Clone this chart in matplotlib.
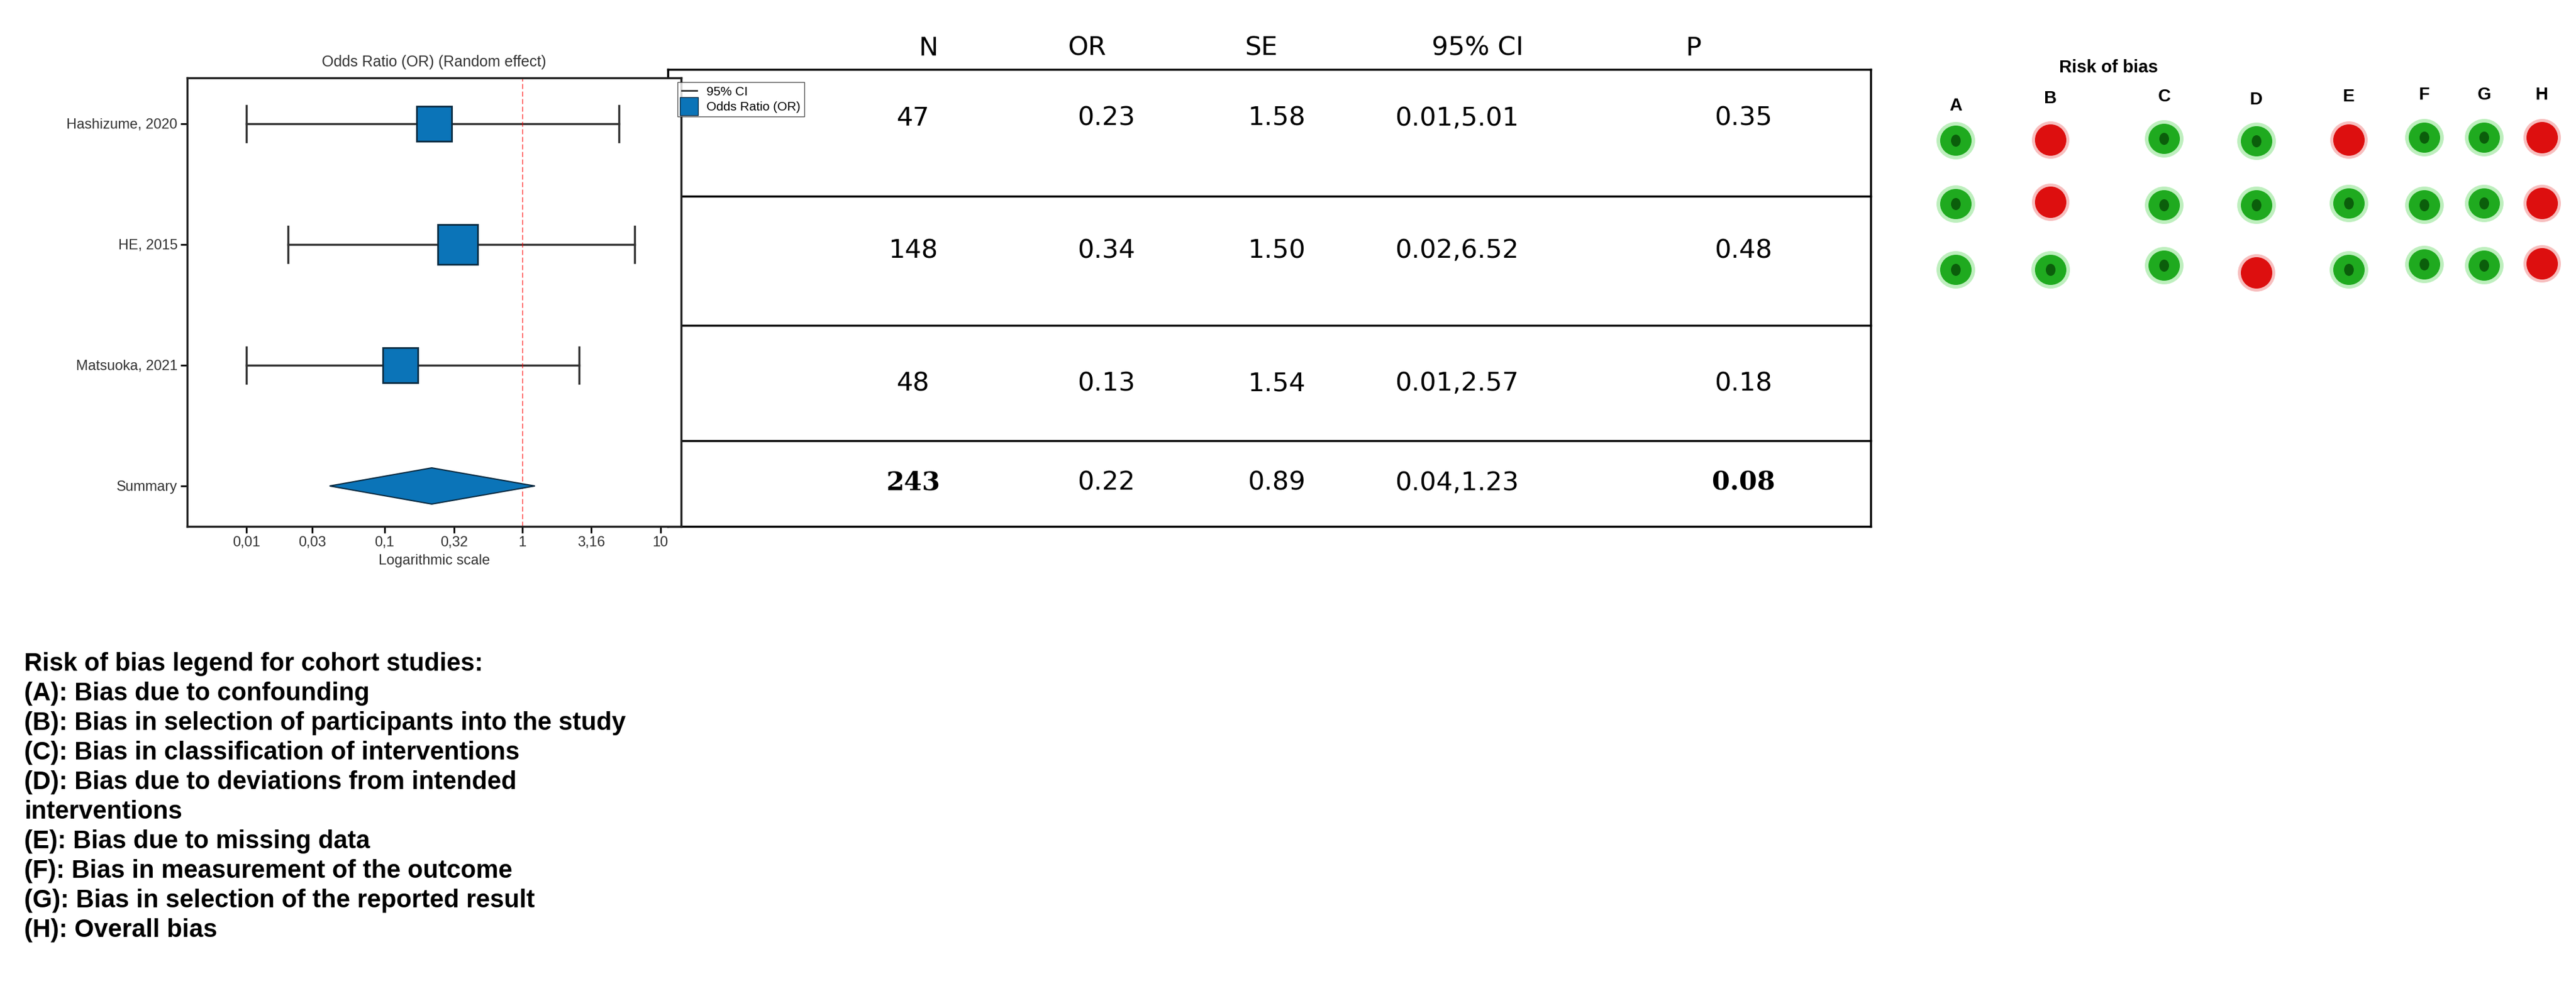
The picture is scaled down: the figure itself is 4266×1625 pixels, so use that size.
import matplotlib
matplotlib.use("Agg")
import matplotlib.pyplot as plt
from matplotlib.patches import Polygon, Ellipse
from matplotlib.lines import Line2D

studies = ["Hashizume, 2020", "HE, 2015", "Matsuoka, 2021"]
or_vals = [0.23, 0.34, 0.13]
ci_low = [0.01, 0.02, 0.01]
ci_high = [5.01, 6.52, 2.57]
box_sizes = [42, 47, 42]
sum_or, sum_low, sum_high = 0.22, 0.04, 1.23
tick_vals = [0.01, 0.03, 0.1, 0.32, 1, 3.16, 10]
tick_labels = ["0,01", "0,03", "0,1", "0,32", "1", "3,16", "10"]

tbl_headers = ["N", "OR", "SE", "95% CI", "P"]
tbl_N = ["47", "148", "48", "243"]
tbl_OR = ["0.23", "0.34", "0.13", "0.22"]
tbl_SE = ["1.58", "1.50", "1.54", "0.89"]
tbl_CI = ["0.01,5.01", "0.02,6.52", "0.01,2.57", "0.04,1.23"]
tbl_P = ["0.35", "0.48", "0.18", "0.08"]

rob_domains = ["A", "B", "C", "D", "E", "F", "G", "H"]
rob = [  # 1 = low (green), 0 = high (red)
    [1, 0, 1, 1, 0, 1, 1, 0],
    [1, 0, 1, 1, 1, 1, 1, 0],
    [1, 1, 1, 0, 1, 1, 1, 0],
]

legend_lines = [
    "Risk of bias legend for cohort studies:",
    "(A): Bias due to confounding",
    "(B): Bias in selection of participants into the study",
    "(C): Bias in classification of interventions",
    "(D): Bias due to deviations from intended",
    "interventions",
    "(E): Bias due to missing data",
    "(F): Bias in measurement of the outcome",
    "(G): Bias in selection of the reported result",
    "(H): Overall bias",
]

W, H = 4266, 1625
fig = plt.figure(figsize=(W / 100, H / 100), dpi=100)
plt.rcParams['font.family'] = ['Liberation Sans', 'DejaVu Sans']

# ---------- forest plot ----------
top, bot, left, right = 129, 872, 310, 1128
ax = fig.add_axes([left / W, 1 - bot / H, (right - left) / W, (bot - top) / H])
ax.set_xscale("log")
ax.set_xlim(10 ** -2.43, 10 ** 1.15)
ax.set_ylim(0.665, 4.38)
ys = [4, 3, 2]
blue = "#0b74b8"
for y, o, lo, hi, s in zip(ys, or_vals, ci_low, ci_high, box_sizes):
    ax.plot([lo, hi], [y, y], color="#333333", lw=2.5, zorder=2)
    ax.plot([lo, lo], [y - 0.15, y + 0.15], color="#333333", lw=2.5)
    ax.plot([hi, hi], [y - 0.15, y + 0.15], color="#333333", lw=2.5)
    ax.plot([o], [y], marker="s", ms=s, mfc=blue, mec="#0a2a40", mew=2, zorder=3)
ax.add_patch(Polygon([[sum_low, 1], [sum_or, 1.15], [sum_high, 1], [sum_or, 0.85]],
                     closed=True, fc=blue, ec="#0a2a40", lw=1.5, zorder=3))
ax.axvline(1, color="red", ls="--", lw=1, dashes=(6, 3), alpha=0.8)
ax.set_yticks([4, 3, 2, 1])
ax.set_yticklabels(studies + ["Summary"], fontsize=17, color="#333333")
ax.set_xticks(tick_vals)
ax.set_xticklabels(tick_labels, fontsize=17, color="#333333")
ax.minorticks_off()
ax.tick_params(length=8, width=2)
ax.set_xlabel("Logarithmic scale", fontsize=17, color="#333333", labelpad=6)
ax.set_title("Odds Ratio (OR) (Random effect)", fontsize=18, color="#333333", pad=14)
for sp in ax.spines.values():
    sp.set_linewidth(2.5)
    sp.set_color("#222222")

handles = [Line2D([0], [0], color="#333333", lw=2),
           Line2D([0], [0], marker="s", ls="", ms=22, mfc=blue, mec="#0a2a40")]
fig.legend(handles, ["95% CI", "Odds Ratio (OR)"], loc="upper left",
           bbox_to_anchor=(1112 / W, 1 - 126 / H), fontsize=15, frameon=True,
           fancybox=False, edgecolor="#222222", handlelength=1.2, borderpad=0.3,
           labelspacing=0.3)

# ---------- overlay axes in pixel coords ----------
ov = fig.add_axes([0, 0, 1, 1], zorder=-1)
ov.set_xlim(0, W)
ov.set_ylim(H, 0)
ov.axis("off")

# table
row_lines = [115, 325, 539, 730, 872]
tx0, tx1 = 1106, 3098
for yl in row_lines:
    ov.plot([tx0, tx1], [yl, yl], color="black", lw=2.5)
ov.plot([tx1, tx1], [row_lines[0], row_lines[-1]], color="black", lw=2.5)
ov.plot([tx0, tx0], [row_lines[0], row_lines[-1]], color="black", lw=2.5)
hdr_x = [1538, 1800, 2088, 2447, 2805]
for hx, t in zip(hdr_x, tbl_headers):
    ov.text(hx, 80, t, fontsize=31, ha="center", va="center", family="DejaVu Sans")
col_x = [1512, 1832, 2114, 2413, 2887]
row_y = [196, 415, 635, 800]
cols = [tbl_N, tbl_OR, tbl_SE, tbl_CI, tbl_P]
for ci, (cx, col) in enumerate(zip(col_x, cols)):
    for ri, (ry, val) in enumerate(zip(row_y, col)):
        bold = ri == 3 and ci in (0, 4)
        ov.text(cx, ry, val, fontsize=31, ha="center", va="center",
                family="DejaVu Serif" if bold else "DejaVu Sans",
                fontweight="bold" if bold else "normal")

# risk of bias
ov.text(3492, 112, "Risk of bias", fontsize=21, ha="center", va="center", fontweight="bold")
dom_x = [3239, 3396, 3584, 3737, 3890, 4015, 4114, 4210]
dom_y = [175, 163, 160, 165, 160, 157, 157, 157]
rob_y = [[233, 232, 230, 234, 232, 228, 228, 228],
         [338, 335, 340, 340, 337, 340, 337, 337],
         [447, 447, 440, 452, 447, 438, 440, 437]]
for dx, dy, d in zip(dom_x, dom_y, rob_domains):
    ov.text(dx, dy, d, fontsize=21, ha="center", va="center", fontweight="bold")
for r, row in enumerate(rob):
    for c, v in enumerate(row):
        x, y = dom_x[c], rob_y[r][c]
        if v:
            ov.add_patch(Ellipse((x, y), 64, 62, fc="#7fe07f", ec="none", alpha=0.5))
            ov.add_patch(Ellipse((x, y), 52, 50, fc="#1faa1f", ec="none"))
            ov.add_patch(Ellipse((x, y), 16, 20, fc="#0b5e0b", ec="none"))
        else:
            ov.add_patch(Ellipse((x, y), 62, 62, fc="#f08080", ec="none", alpha=0.5))
            ov.add_patch(Ellipse((x, y), 52, 52, fc="#dd0f0f", ec="none"))

# legend text
for i, line in enumerate(legend_lines):
    ov.text(40, 1100 + i * 49, line, fontsize=30, fontweight="bold", ha="left", va="center")

fig.savefig("out.png", dpi=100, facecolor="white")
